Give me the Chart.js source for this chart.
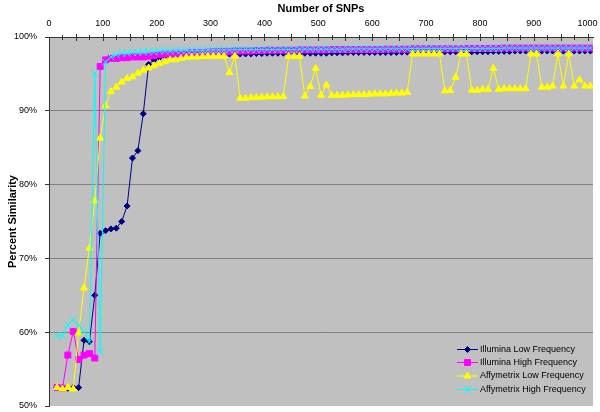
<!DOCTYPE html>
<html>
<head>
<meta charset="utf-8">
<script src="https://cdn.jsdelivr.net/npm/chart.js@4"></script>
<style>
html,body{margin:0;padding:0;background:#fff;}
canvas{display:block;}
</style>
</head>
<body>
<canvas id="c" width="600" height="412"></canvas>
<script>
// ---- data ----
const snpCounts = [15,25,35,45,55,65,75,85,95,105,115,125,135,145,155,165,175,185,195,205,
  215,225,235,245,255,265,275,285,295,305,315,325,335,345,355,365,375,385,395,405,
  415,425,435,445,455,465,475,485,495,505,515,525,535,545,555,565,575,585,595,605,
  615,625,635,645,655,665,675,685,695,705,715,725,735,745,755,765,775,785,795,805,
  815,825,835,845,855,865,875,885,895,905,915,925,935,945,955,965,975,985,995,1005];

const illuminaLow = [52.5,52.5,52.4,52.5,52.5,58.9,58.7,65.0,73.4,73.75,74.0,74.1,75.0,77.1,83.6,84.6,89.6,96.3,96.9,97.2,
  97.4,97.5,97.5,97.6,97.6,97.6,97.6,97.65,97.65,97.7,97.7,97.7,97.7,97.7,97.7,97.7,97.7,97.75,97.75,97.8,
  97.8,97.8,97.8,97.8,97.8,97.8,97.8,97.8,97.8,97.8,97.8,97.85,97.85,97.85,97.9,97.9,97.9,97.9,97.9,97.9,
  97.9,97.9,97.9,97.9,97.95,97.95,97.95,97.95,97.95,98.0,98.0,98.0,98.0,98.0,98.0,98.0,98.0,98.0,98.0,98.0,
  98.0,98.05,98.05,98.05,98.05,98.1,98.1,98.1,98.1,98.1,98.1,98.1,98.1,98.1,98.1,98.1,98.1,98.1,98.1,98.1];

const illuminaHigh = [52.5,52.4,56.9,60.1,56.3,56.9,57.1,56.5,96.0,96.9,97.1,97.1,97.2,97.2,97.3,97.3,97.3,97.4,97.5,97.6,
  97.7,97.7,97.8,97.8,97.8,97.9,97.9,97.9,97.95,98.0,98.0,98.05,98.05,98.1,98.1,98.1,98.1,98.15,98.15,98.2,
  98.2,98.2,98.2,98.2,98.2,98.25,98.25,98.25,98.25,98.25,98.25,98.3,98.3,98.3,98.3,98.3,98.3,98.3,98.3,98.3,
  98.3,98.35,98.35,98.35,98.35,98.35,98.4,98.4,98.4,98.4,98.4,98.4,98.4,98.4,98.4,98.4,98.45,98.45,98.45,98.45,
  98.45,98.45,98.45,98.5,98.5,98.5,98.5,98.5,98.5,98.5,98.5,98.5,98.5,98.5,98.5,98.5,98.5,98.5,98.5,98.5];

const affyLow = [52.5,52.3,52.5,52.3,59.9,66.0,71.4,77.8,86.3,90.7,92.6,93.2,93.9,94.4,94.6,95.1,95.5,95.8,96.1,96.4,
  96.65,96.9,96.9,97.1,97.25,97.3,97.3,97.35,97.4,97.4,97.4,97.4,95.2,97.4,91.7,91.7,91.8,91.8,91.85,91.9,
  91.9,91.9,91.95,97.4,97.4,97.4,92.0,93.3,95.75,92.1,93.5,92.1,92.1,92.1,92.15,92.2,92.2,92.2,92.25,92.3,
  92.3,92.3,92.35,92.4,92.4,92.5,97.7,97.7,97.7,97.7,97.7,97.7,92.7,92.75,94.55,97.7,97.7,92.8,92.8,92.9,
  92.9,95.75,92.9,93.0,93.0,93.0,93.0,93.0,97.7,97.7,93.2,93.2,93.35,97.7,93.35,97.7,93.35,94.2,93.35,93.35];

const affyHigh = [59.5,59.5,61.0,61.7,61.0,60.1,58.7,95.1,57.3,96.6,97.3,97.6,97.8,97.8,97.9,97.9,98.0,98.0,98.0,98.1,
  98.1,98.1,98.15,98.15,98.2,98.2,98.2,98.2,98.25,98.25,98.25,98.25,98.25,98.3,98.3,98.3,98.3,98.3,98.3,98.3,
  98.3,98.3,98.3,98.3,98.3,98.35,98.35,98.35,98.35,98.35,98.35,98.35,98.35,98.35,98.4,98.4,98.4,98.4,98.4,98.4,
  98.4,98.4,98.4,98.4,98.4,98.4,98.45,98.45,98.45,98.45,98.45,98.45,98.45,98.45,98.45,98.45,98.45,98.45,98.45,98.45,
  98.45,98.45,98.45,98.5,98.5,98.5,98.5,98.5,98.5,98.5,98.5,98.5,98.5,98.5,98.5,98.5,98.5,98.5,98.5,98.5];

const xTickLabels = [0,100,200,300,400,500,600,700,800,900,1000];
const yTickValues = [50,60,70,80,90,100];

const seriesNames = ['Illumina Low Frequency','Illumina High Frequency','Affymetrix Low Frequency','Affymetrix High Frequency'];
const seriesColors = ['#000080','#FF00FF','#FFFF00','#00FFFF'];
const seriesStyles = ['rectRot','rect','triangle','crossRot'];
const seriesRadii = [3,4.2,4,5];
const seriesValues = [illuminaLow, illuminaHigh, affyLow, affyHigh];

const FONT = "'Liberation Sans', Arial, sans-serif";

function pts(vals){ return vals.map((v,i)=>({x:snpCounts[i], y:v})); }

const datasets = seriesNames.map((name,i)=>({
  label: name,
  data: pts(seriesValues[i]),
  borderColor: seriesColors[i],
  backgroundColor: seriesColors[i],
  pointBackgroundColor: seriesColors[i],
  pointBorderColor: seriesColors[i],
  pointStyle: seriesStyles[i],
  pointRadius: seriesRadii[i],
  pointBorderWidth: 1,
  borderWidth: 1,
  tension: 0,
  fill: false,
  order: 4 - i
}));

const bgPlugin = {
  id: 'bg',
  beforeDraw(chart){
    const {ctx, chartArea:a} = chart;
    ctx.save();
    ctx.fillStyle = '#C0C0C0';
    ctx.fillRect(a.left, a.top, a.right - a.left, a.bottom - a.top);
    ctx.restore();
  }
};

const xTickPlugin = {
  id: 'xticks',
  afterDraw(chart){
    const {ctx, chartArea:a} = chart;
    const xs = chart.scales.x;
    ctx.save();
    ctx.strokeStyle = '#333';
    ctx.lineWidth = 1;
    for (let v = 25; v <= 1000; v += 25){
      const px = Math.round(xs.getPixelForValue(v)) + 0.5;
      const len = (v % 50 === 0) ? 3 : 2;
      ctx.beginPath();
      ctx.moveTo(px, a.top - len);
      ctx.lineTo(px, a.top + len + 1);
      ctx.stroke();
    }
    ctx.restore();
  }
};

function drawMarker(ctx, style, x, y, r, color){
  ctx.save();
  ctx.fillStyle = color; ctx.strokeStyle = color; ctx.lineWidth = 1;
  ctx.beginPath();
  if (style === 'rectRot'){
    ctx.moveTo(x, y - r); ctx.lineTo(x + r, y); ctx.lineTo(x, y + r); ctx.lineTo(x - r, y); ctx.closePath();
    ctx.fill(); ctx.stroke();
  } else if (style === 'rect'){
    const s = r * Math.SQRT1_2;
    ctx.rect(x - s, y - s, 2*s, 2*s); ctx.fill(); ctx.stroke();
  } else if (style === 'triangle'){
    for (let k = 0; k < 3; k++){
      const ang = k * 2 * Math.PI / 3;
      const px = x + Math.sin(ang) * r, py = y - Math.cos(ang) * r;
      if (k === 0) ctx.moveTo(px, py); else ctx.lineTo(px, py);
    }
    ctx.closePath(); ctx.fill(); ctx.stroke();
  } else {
    const o = r * Math.SQRT1_2;
    ctx.moveTo(x - o, y - o); ctx.lineTo(x + o, y + o);
    ctx.moveTo(x + o, y - o); ctx.lineTo(x - o, y + o);
    ctx.stroke();
  }
  ctx.restore();
}

const legendPlugin = {
  id: 'boxLegend',
  afterDraw(chart){
    const {ctx} = chart;
    const rows = [349, 362, 375.5, 389];
    const x0 = 457, x1 = 478, tx = 480;
    ctx.save();
    ctx.font = '9px ' + FONT;
    ctx.textBaseline = 'middle';
    ctx.textAlign = 'left';
    seriesNames.forEach((name,i)=>{
      const y = rows[i];
      ctx.strokeStyle = seriesColors[i];
      ctx.lineWidth = 1;
      ctx.beginPath(); ctx.moveTo(x0, y + 0.5); ctx.lineTo(x1, y + 0.5); ctx.stroke();
      drawMarker(ctx, seriesStyles[i], (x0 + x1)/2, y + 0.5, seriesRadii[i], seriesColors[i]);
      ctx.fillStyle = '#000';
      ctx.fillText(name, tx, y + 0.5);
    });
    ctx.restore();
  }
};

new Chart(document.getElementById('c'), {
  type: 'scatter',
  data: { datasets },
  options: {
    responsive: false,
    animation: false,
    devicePixelRatio: 1,
    showLine: true,
    layout: { padding: { left: 0, right: 7, top: 0, bottom: 6 } },
    plugins: {
      legend: { display: false },
      tooltip: { enabled: false },
      title: { display: false }
    },
    scales: {
      x: {
        type: 'linear',
        position: 'top',
        min: 0,
        max: 1010,
        afterBuildTicks(s){ s.ticks = xTickLabels.map(v => ({value: v})); },
        afterFit(s){ s.height = 37; s.paddingLeft = 0; s.paddingRight = 0; },
        ticks: { font: { family: FONT, size: 9 }, color: '#000', padding: 8, maxRotation: 0, autoSkip: false, callback: v => String(v) },
        grid: { display: true, drawOnChartArea: false, drawTicks: false },
        border: { display: true, color: '#333', width: 1 },
        title: { display: true, text: 'Number of SNPs', color: '#000', font: { family: FONT, size: 11, weight: 'bold' }, padding: { top: 2, bottom: 0 } }
      },
      y: {
        type: 'linear',
        min: 50,
        max: 100,
        afterBuildTicks(s){ s.ticks = yTickValues.map(v => ({value: v})); },
        afterFit(s){ s.width = 49; s.paddingTop = 0; s.paddingBottom = 0; },
        ticks: { font: { family: FONT, size: 9 }, color: '#000', padding: 8, callback: v => v + '%' },
        grid: {
          color: c => (c.tick && (c.tick.value === 50 || c.tick.value === 100)) ? 'rgba(0,0,0,0)' : '#808080',
          tickColor: '#333',
          tickLength: 4,
          lineWidth: 1
        },
        border: { display: true, color: '#333', width: 1 },
        title: { display: true, text: 'Percent Similarity', color: '#000', font: { family: FONT, size: 11, weight: 'bold' }, padding: { top: 6, bottom: 0 } }
      }
    }
  },
  plugins: [bgPlugin, xTickPlugin, legendPlugin]
});
</script>
</body>
</html>
